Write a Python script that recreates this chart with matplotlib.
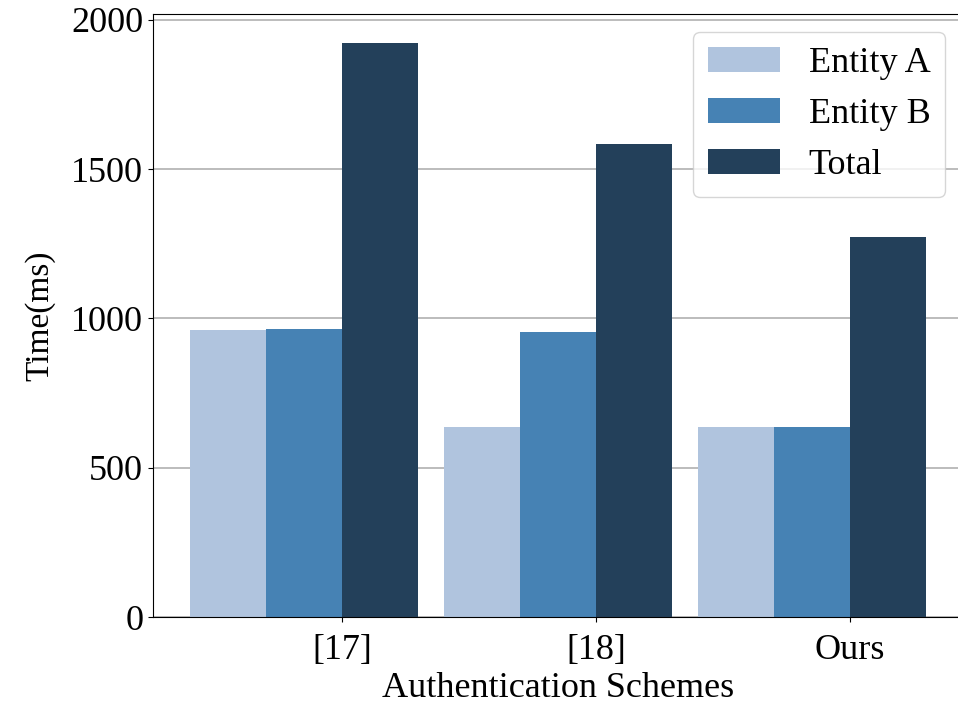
import numpy as np
import matplotlib
matplotlib.use('Agg')
import matplotlib.pyplot as plt

schemes = ['[17]', '[18]', 'Ours']
entity_a = [960, 635, 635]
entity_b = [966, 953, 635]
total = [1923, 1585, 1271]

plt.rcParams['font.family'] = ['Liberation Serif', 'DejaVu Serif']
plt.rcParams['font.size'] = 26

fig = plt.figure(figsize=(9.58, 7.05), dpi=100)
ax = fig.add_axes([153 / 958, 88 / 705, 810 / 958, 603 / 705])

x = np.arange(len(schemes))
w = 0.3
ax.bar(x - 2 * w, entity_a, w, align='edge', color='#b0c4de', label='Entity A')
ax.bar(x - w, entity_b, w, align='edge', color='#4682b4', label='Entity B')
ax.bar(x, total, w, align='edge', color='#23405a', label='Total')

ax.set_xticks(x)
ax.set_xticklabels(schemes)
ax.set_yticks([0, 500, 1000, 1500, 2000])
ax.tick_params(axis='x', pad=9)
ax.set_axisbelow(True)
ax.yaxis.grid(True, color='#b0b0b0', linewidth=1.2)
ax.set_xlabel('Authentication Schemes', labelpad=3)
ax.set_ylabel('Time(ms)', fontsize=24, labelpad=11)
ax.legend(loc='upper right', fancybox=True)

plt.savefig('out.png', dpi=100)
